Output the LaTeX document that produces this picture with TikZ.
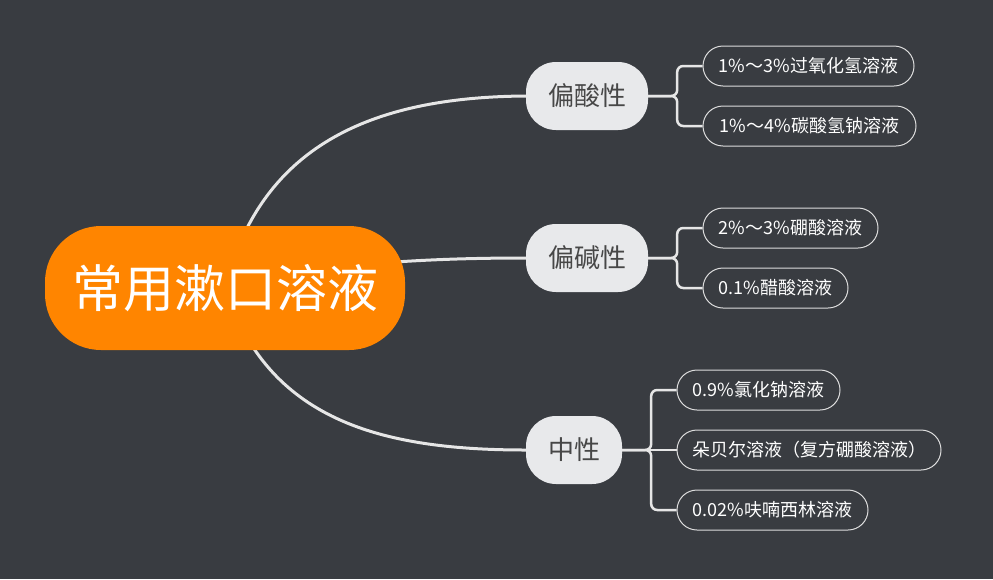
\documentclass[tikz,border=0pt]{standalone}
\usepackage{fontspec}
\setmainfont{Noto Sans CJK SC}
\usetikzlibrary{backgrounds,calc}
\definecolor{bgc}{HTML}{393C41}
\definecolor{orangec}{HTML}{FF8500}
\definecolor{midfill}{HTML}{E8E9EB}
\definecolor{midtext}{HTML}{474747}
\definecolor{linec}{HTML}{E6E6E6}
\definecolor{leafline}{HTML}{DDDDDD}
\tikzset{
  rootnode/.style={fill=orangec, text=white, minimum width=360pt, minimum height=124pt,
    rounded corners=56pt, inner sep=0pt, font=\fontsize{51pt}{58pt}\selectfont},
  topicnode/.style={fill=midfill, text=midtext, minimum height=68pt,
    rounded corners=30pt, inner sep=0pt, font=\fontsize{26pt}{30pt}\selectfont},
  leafnode/.style={draw=leafline, line width=1pt, text=white, minimum height=40pt,
    rounded corners=20pt, inner sep=0pt, font=\fontsize{18pt}{21pt}\selectfont},
  branch/.style={draw=linec, line width=3pt},
  bracket/.style={draw=linec, line width=2.5pt, rounded corners=6pt}
}
\begin{document}
\begin{tikzpicture}[x=1pt,y=-1pt]
\useasboundingbox (0,0) rectangle (993,579);
\node[rootnode] (root) at (225,288) {常用漱口溶液};
\node[topicnode, minimum width=122pt] (acid) at (587,96) {偏酸性};
\node[topicnode, minimum width=122pt] (base) at (587,258) {偏碱性};
\node[topicnode, minimum width=96pt] (neut) at (574,450) {中性};
\node[leafnode, minimum width=211pt] (a1) at (808.5,66) {1\%～3\%过氧化氢溶液};
\node[leafnode, minimum width=213pt] (a2) at (809.5,126) {1\%～4\%碳酸氢钠溶液};
\node[leafnode, minimum width=175pt] (b1) at (790.5,228) {2\%～3\%硼酸溶液};
\node[leafnode, minimum width=145pt] (b2) at (775.5,288) {0.1\%醋酸溶液};
\node[leafnode, minimum width=163pt] (n1) at (758.5,390) {0.9\%氯化钠溶液};
\node[leafnode, minimum width=264pt] (n2) at (809,450) {朵贝尔溶液（复方硼酸溶液）};
\node[leafnode, minimum width=191pt] (n3) at (772.5,510) {0.02\%呋喃西林溶液};
\begin{pgfonlayer}{background}
\fill[bgc] (0,0) rectangle (993,579);
\draw[branch] (root.center) .. controls (262,140) and (380,97) .. (acid.west);
\draw[branch] (root.center) .. controls (320,262) and (440,258) .. (base.west);
\draw[branch] (root.center) .. controls (268,420) and (380,450) .. (neut.west);
\draw[bracket] (acid.east) -- ++(29,0) |- (a1.west);
\draw[bracket] (acid.east) -- ++(29,0) |- (a2.west);
\draw[bracket] (base.east) -- ++(29,0) |- (b1.west);
\draw[bracket] (base.east) -- ++(29,0) |- (b2.west);
\draw[bracket] (neut.east) -- ++(29,0) |- (n1.west);
\draw[bracket] (neut.east) -- (n2.west);
\draw[bracket] (neut.east) -- ++(29,0) |- (n3.west);
\end{pgfonlayer}
\end{tikzpicture}
\end{document}
